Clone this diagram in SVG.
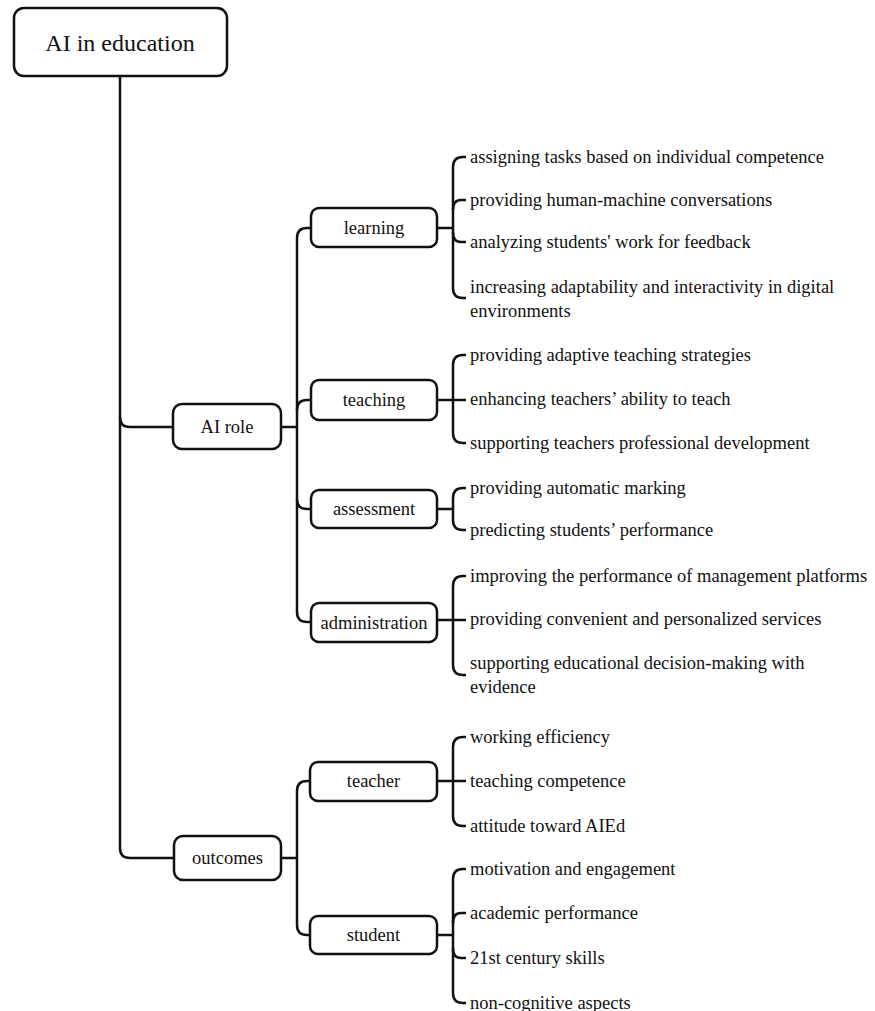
<svg xmlns="http://www.w3.org/2000/svg" width="875" height="1011" viewBox="0 0 875 1011">
<style>
.box{fill:#fff;stroke:#111;stroke-width:2.5}
.ln{fill:none;stroke:#111;stroke-width:2.5;stroke-linecap:butt}
.nt{font-family:"Liberation Serif","Times New Roman",serif;font-size:18.5px;fill:#111;text-anchor:middle}
.lf{font-family:"Liberation Serif","Times New Roman",serif;font-size:18.5px;fill:#111}
.rt{font-family:"Liberation Serif","Times New Roman",serif;font-size:24px;fill:#111;text-anchor:middle}
</style>
<rect width="875" height="1011" fill="#fff"/>
<g id="connectors">
<!-- trunk -->
<path class="ln" d="M120,76 V848 Q120,858 130,858 H174"/>
<path class="ln" d="M120,417 Q120,427 130,427 H173"/>
<!-- AI role branch -->
<path class="ln" d="M281,427 H297"/>
<path class="ln" d="M311,228 H307 Q297,228 297,238 V612 Q297,622 307,622 H311"/>
<path class="ln" d="M297,410 Q297,400 307,400 H311"/>
<path class="ln" d="M297,499 Q297,509 307,509 H311"/>
<!-- outcomes branch -->
<path class="ln" d="M281,858 H297"/>
<path class="ln" d="M310,781 H307 Q297,781 297,791 V925 Q297,935 307,935 H310"/>
<!-- learning leaves -->
<path class="ln" d="M437,228 H453"/>
<path class="ln" d="M466,157 H463 Q453,157 453,167 V288 Q453,298 463,298 H466"/>
<path class="ln" d="M453,210 Q453,200 461,200 H466"/>
<path class="ln" d="M453,232 Q453,242 461,242 H466"/>
<!-- teaching leaves -->
<path class="ln" d="M437,400 H466"/>
<path class="ln" d="M466,355 H463 Q453,355 453,365 V433 Q453,443 463,443 H466"/>
<!-- assessment leaves -->
<path class="ln" d="M437,509 H453"/>
<path class="ln" d="M466,488 H463 Q453,488 453,498 V520 Q453,530 463,530 H466"/>
<!-- administration leaves -->
<path class="ln" d="M437,620 H466"/>
<path class="ln" d="M466,576 H463 Q453,576 453,586 V665 Q453,675 463,675 H466"/>
<!-- teacher leaves -->
<path class="ln" d="M437,781 H466"/>
<path class="ln" d="M466,737 H463 Q453,737 453,747 V816 Q453,826 463,826 H466"/>
<!-- student leaves -->
<path class="ln" d="M437,935 H453"/>
<path class="ln" d="M466,869 H463 Q453,869 453,879 V993 Q453,1003 463,1003 H466"/>
<path class="ln" d="M453,923 Q453,913 461,913 H466"/>
<path class="ln" d="M453,948 Q453,958 461,958 H466"/>
</g>
<g id="root"><rect class="box" x="14" y="8" width="213" height="68" rx="10"/><text class="rt" x="120" y="51">AI in education</text></g>
<g id="ai-role"><rect class="box" x="173" y="404" width="108" height="45" rx="9"/><text class="nt" x="227" y="433">AI role</text></g>
<g id="outcomes"><rect class="box" x="174" y="836" width="107" height="44" rx="9"/><text class="nt" x="227.5" y="864">outcomes</text></g>
<g id="learning"><rect class="box" x="311" y="208" width="126" height="39" rx="8"/><text class="nt" x="374" y="234">learning</text></g>
<g id="teaching"><rect class="box" x="311" y="380" width="126" height="40" rx="8"/><text class="nt" x="374" y="406">teaching</text></g>
<g id="assessment"><rect class="box" x="311" y="490" width="126" height="38" rx="8"/><text class="nt" x="374" y="515">assessment</text></g>
<g id="administration"><rect class="box" x="311" y="603" width="126" height="39" rx="8"/><text class="nt" x="374" y="629">administration</text></g>
<g id="teacher"><rect class="box" x="310" y="762" width="127" height="39" rx="8"/><text class="nt" x="373.5" y="787">teacher</text></g>
<g id="student"><rect class="box" x="310" y="916" width="127" height="38" rx="8"/><text class="nt" x="373.5" y="941">student</text></g>
<g id="leaves-learning">
<text class="lf" x="470" y="163">assigning tasks based on individual competence</text>
<text class="lf" x="470" y="206">providing human-machine conversations</text>
<text class="lf" x="470" y="248">analyzing students' work for feedback</text>
<text class="lf" x="470" y="293">increasing adaptability and interactivity in digital</text>
<text class="lf" x="470" y="317">environments</text>
</g>
<g id="leaves-teaching">
<text class="lf" x="470" y="361">providing adaptive teaching strategies</text>
<text class="lf" x="470" y="405">enhancing teachers’ ability to teach</text>
<text class="lf" x="470" y="449">supporting teachers professional development</text>
</g>
<g id="leaves-assessment">
<text class="lf" x="470" y="494">providing automatic marking</text>
<text class="lf" x="470" y="536">predicting students’ performance</text>
</g>
<g id="leaves-administration">
<text class="lf" x="470" y="582">improving the performance of management platforms</text>
<text class="lf" x="470" y="625">providing convenient and personalized services</text>
<text class="lf" x="470" y="669">supporting educational decision-making with</text>
<text class="lf" x="470" y="693">evidence</text>
</g>
<g id="leaves-teacher">
<text class="lf" x="470" y="743">working efficiency</text>
<text class="lf" x="470" y="787">teaching competence</text>
<text class="lf" x="470" y="832">attitude toward AIEd</text>
</g>
<g id="leaves-student">
<text class="lf" x="470" y="875">motivation and engagement</text>
<text class="lf" x="470" y="919">academic performance</text>
<text class="lf" x="470" y="964">21st century skills</text>
<text class="lf" x="470" y="1009">non-cognitive aspects</text>
</g>
</svg>
